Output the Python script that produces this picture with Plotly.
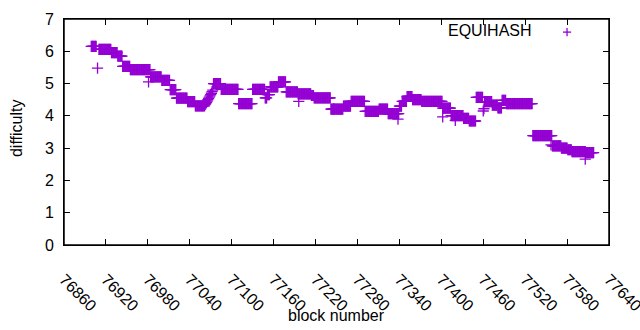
import plotly.graph_objects as go

# ---- data (runs of equal difficulty per block) ----
run_first = [76899, 76910, 76928, 76937, 76944, 76955, 76984, 77000, 77012, 77021,
             77037, 77048, 77074, 77085, 77110, 77130, 77148, 77151, 77155, 77167,
             77178, 77195, 77214, 77218, 77242, 77260, 77271, 77291, 77311, 77324,
             77340, 77344, 77351, 77359, 77372, 77402, 77414, 77432, 77440, 77450,
             77462, 77473, 77481, 77487, 77493, 77531, 77559, 77572, 77581, 77587,
             77607]
run_last = [76906, 76927, 76936, 76943, 76954, 76983, 76999, 77011, 77020, 77036,
            77047, 77061, 77084, 77109, 77129, 77147, 77150, 77154, 77166, 77177,
            77194, 77213, 77217, 77241, 77259, 77270, 77290, 77310, 77323, 77339,
            77343, 77350, 77358, 77371, 77401, 77413, 77431, 77439, 77449, 77459,
            77472, 77480, 77486, 77492, 77530, 77558, 77571, 77580, 77586, 77606,
            77618]
run_level = [6.15, 6.06, 5.96, 5.85, 5.53, 5.43, 5.21, 5.10, 4.81, 4.55,
             4.44, 4.31, 5.00, 4.82, 4.38, 4.82, 4.56, 4.66, 4.90, 5.05,
             4.74, 4.68, 4.63, 4.56, 4.21, 4.30, 4.45, 4.14, 4.21, 4.07,
             4.30, 4.45, 4.60, 4.50, 4.45, 4.24, 4.01, 3.92, 3.84, 4.57,
             4.44, 4.33, 4.25, 4.48, 4.38, 3.39, 3.07, 3.00, 2.95, 2.89,
             2.86]

# single blocks read individually (ramp and stray points)
single_block = [76908, 76981, 77062, 77063, 77064, 77065, 77066, 77067, 77068, 77069,
                77070, 77071, 77072, 77073, 77196, 77246, 77338, 77402, 77420, 77460,
                77461, 77557, 77606]
single_value = [5.48, 5.05, 4.35, 4.38, 4.42, 4.46, 4.50, 4.54, 4.58, 4.62,
                4.66, 4.70, 4.75, 4.80, 4.45, 4.22, 3.90, 3.97, 3.86, 4.15,
                4.22, 3.10, 2.66]

x_ticks = [76860, 76920, 76980, 77040, 77100, 77160, 77220, 77280, 77340,
           77400, 77460, 77520, 77580, 77640]
y_ticks = [0, 1, 2, 3, 4, 5, 6, 7]

series_name = "EQUIHASH"

# ---- expand runs into per-block points ----
blocks, values = [], []
for a, b, v in zip(run_first, run_last, run_level):
    for blk in range(a, b + 1):
        blocks.append(blk)
        values.append(v)
blocks += single_block
values += single_value

PURPLE = "#9400D3"
FONT = dict(family="Liberation Sans, Arial, sans-serif", size=16, color="black")
MARKER = dict(symbol="cross-thin-open", size=8, color=PURPLE,
              line=dict(width=1.3, color=PURPLE))

fig = go.Figure()
fig.add_trace(go.Scatter(
    x=blocks, y=values, mode="markers", name=series_name, showlegend=False,
    marker=MARKER,
))

axis_common = dict(
    showline=True, linecolor="black", linewidth=1, mirror="allticks",
    ticks="inside", ticklen=6, tickcolor="black", tickwidth=1,
    showgrid=False, zeroline=False, tickfont=FONT, automargin=False,
    ticklabeloverflow="allow",
)
fig.update_xaxes(range=[x_ticks[0], x_ticks[-1]], tickmode="array", tickvals=x_ticks,
                 ticktext=[str(t) for t in x_ticks], tickangle=45,
                 ticklabelstandoff=18, **axis_common)
fig.update_yaxes(range=[y_ticks[0], y_ticks[-1]], tickmode="array", tickvals=y_ticks,
                 ticktext=[str(t) for t in y_ticks], ticklabelstandoff=6,
                 **axis_common)

# full border box, as gnuplot draws it
fig.add_shape(type="rect", xref="paper", yref="paper", x0=0, x1=1, y0=0, y1=1,
              line=dict(color="black", width=1.5), layer="above")

# axis titles placed like gnuplot's
fig.add_annotation(x=0.5, y=-0.31, xref="paper", yref="paper", text="block number",
                   showarrow=False, xanchor="center", yanchor="middle", font=FONT)
fig.add_annotation(x=-0.086, y=0.518, xref="paper", yref="paper", text="difficulty",
                   showarrow=False, textangle=-90, xanchor="center", yanchor="middle",
                   font=FONT)

# legend drawn like gnuplot's key: label then a "+" sample to the right
fig.add_annotation(x=0.862, y=0.947, xref="paper", yref="paper", text=series_name,
                   showarrow=False, xanchor="right", yanchor="middle", font=FONT)
kx, ky = 0.923, 0.942
fig.add_shape(type="line", xref="paper", yref="paper", x0=kx - 0.0075, x1=kx + 0.0075,
              y0=ky, y1=ky, line=dict(color=PURPLE, width=1.3))
fig.add_shape(type="line", xref="paper", yref="paper", x0=kx, x1=kx,
              y0=ky - 0.018, y1=ky + 0.018, line=dict(color=PURPLE, width=1.3))

fig.update_layout(
    width=640, height=330,
    margin=dict(l=64, r=31, t=19, b=85),
    plot_bgcolor="white", paper_bgcolor="white",
    font=FONT, showlegend=False,
)

fig.write_html("out.html", config={"displayModeBar": False},
               post_script="document.body.style.margin='0';")
